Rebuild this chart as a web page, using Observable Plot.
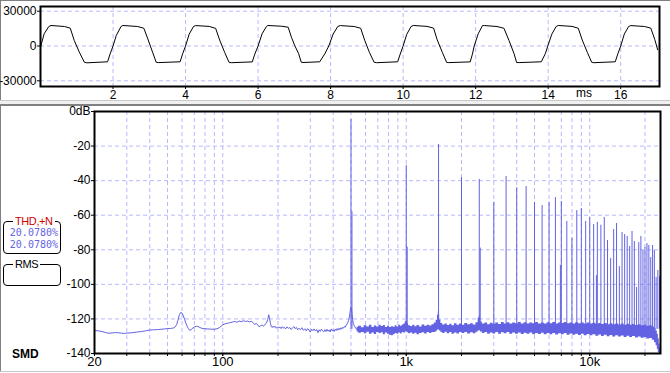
<!DOCTYPE html>
<html><head><meta charset="utf-8">
<script src="https://cdn.jsdelivr.net/npm/d3@7"></script>
<script src="https://cdn.jsdelivr.net/npm/@observablehq/plot@0.6"></script>
<style>
html,body{margin:0;padding:0;background:#fff;}
#wrap{position:relative;width:670px;height:373px;overflow:hidden;background:#fff;font-family:"Liberation Sans Narrow","Liberation Sans",Arial,sans-serif;}
.chrome{position:absolute;}
#topPlot,#botPlot{position:absolute;left:0;}
#topPlot{top:0;}
#botPlot{top:104px;}
.box{position:absolute;border:1px solid #000;border-radius:4px;box-sizing:border-box;}
.legend{position:absolute;top:-7px;left:9px;background:#fff;padding:0 2px;font-size:11px;letter-spacing:-0.4px;line-height:13px;}
.val{position:absolute;right:2px;top:5px;font-family:"DejaVu Sans Mono",monospace;font-size:10px;line-height:12.3px;color:#6464e4;text-align:right;}
#smd{position:absolute;left:12px;top:347px;font-family:"Liberation Sans",Arial,sans-serif;font-weight:bold;font-size:12px;line-height:14px;}
#ms{position:absolute;left:576px;top:86px;font-size:12px;line-height:14px;}
</style></head><body>
<div id="wrap">
  <div class="chrome" style="left:0;top:0;width:670px;height:1px;background:#808080"></div>
  <div class="chrome" style="left:0;top:0;width:1px;height:100px;background:#808080"></div>
  <div class="chrome" style="left:0;top:100px;width:670px;height:1px;background:#c8c8c8"></div>
  <div class="chrome" style="left:0;top:101px;width:670px;height:3px;background:#f0f0f0"></div>
  <div class="chrome" style="left:0;top:104px;width:670px;height:2px;background:#808080"></div>
  <div class="chrome" style="left:0;top:104px;width:1px;height:268px;background:#808080"></div>
  <div class="chrome" style="left:0;top:371px;width:670px;height:1px;background:#c8c8c8"></div>
  <div id="topPlot"></div>
  <div id="botPlot"></div>
  <div id="ms"></div>
  <div class="box" id="thdBox" style="left:3px;top:221px;width:58px;height:33px;"><span class="legend" id="thdTitle" style="color:#d00000"></span><div class="val" id="thdVals"></div></div>
  <div class="box" id="rmsBox" style="left:3px;top:264px;width:58px;height:22px;"><span class="legend" id="rmsTitle"></span></div>
  <div id="smd"></div>
</div>
<script>
// ---------- text data ----------
const thdTitle = "THD,+N";
const thdValues = ["20.0780%", "20.0780%"];
const rmsTitle = "RMS";
const modeLabel = "SMD";
const timeUnit = "ms";

// ---------- top panel: waveform (ms, sample value) ----------
const timeTicks = [2, 4, 6, 8, 10, 12, 14, 16];
const ampTicks = [30000, 0, -30000];
const ampTickLabels = ["30000", "0", "-30000"];
const waveT = [
  0.00, 0.10, 0.23, 0.29, 0.66, 0.82, 0.93, 1.07, 1.21, 1.28, 1.85, 1.92,
  2.00, 2.09, 2.22, 2.27, 2.68, 2.85, 2.96, 3.09, 3.19, 3.26, 3.85, 3.92,
  4.00, 4.10, 4.22, 4.28, 4.65, 4.83, 4.94, 5.08, 5.20, 5.26, 5.84, 5.91,
  6.00, 6.11, 6.23, 6.27, 6.64, 6.83, 6.92, 7.01, 7.12, 7.19, 7.24, 7.70, 7.84,
  7.95, 8.07, 8.20, 8.27, 8.65, 8.83, 8.94, 9.07, 9.20, 9.27, 9.85, 9.92,
  10.00, 10.10, 10.22, 10.28, 10.66, 10.84, 10.94, 11.08, 11.20, 11.26, 11.85, 11.91,
  11.96, 12.07, 12.19, 12.25, 12.59, 12.78, 12.92, 13.06, 13.13, 13.20, 13.81, 13.92,
  13.99, 14.10, 14.22, 14.28, 14.66, 14.83, 14.94, 15.08, 15.20, 15.26, 15.85, 15.92,
  16.00, 16.10, 16.22, 16.28, 16.66, 16.83, 16.94, 17.02
];
const waveV = [
  -1000, 10500, 16800, 17700, 16800, 15400, 4800, -5300, -14000, -14500, -13600, -6800,
  0, 9100, 16800, 17700, 16800, 15300, 6100, -5300, -14000, -14300, -13600, -6700,
  0, 10200, 16900, 17600, 16900, 15200, 5200, -5600, -14100, -14400, -13700, -7000,
  0, 10500, 16800, 17670, 17070, 16200, 7590, 430, -6720, -13960, -14220, -13620, -6720,
  0, 10300, 16900, 17600, 16800, 15300, 5000, -5500, -14000, -14400, -13600, -6900,
  0, 10100, 16800, 17700, 16900, 15400, 5300, -5400, -14100, -14300, -13700, -7100,
  0, 10500, 17670, 17600, 16800, 15300, 4740, -6720, -14220, -14300, -13620, -6720,
  0, 10200, 16800, 17700, 16900, 15300, 5100, -5500, -14000, -14400, -13600, -6800,
  0, 10300, 16900, 17600, 16800, 15400, 5600, -3300
];

// ---------- bottom panel: spectrum (Hz, dB) ----------
const freqGrid = [30, 40, 50, 60, 70, 80, 90, 100, 200, 300, 400, 500, 600, 700, 800, 900,
  1000, 2000, 3000, 4000, 5000, 6000, 7000, 8000, 9000, 10000, 20000];
const freqMinorTicks = [20, 30, 40, 50, 60, 70, 80, 90, 100, 200, 300, 400, 500, 600, 700, 800, 900,
  1000, 2000, 3000, 4000, 5000, 6000, 7000, 8000, 9000, 10000, 20000];
const freqLabelTicks = [20, 100, 1000, 10000];
const freqLabels = ["20", "100", "1k", "10k"];
const dbGrid = [-20, -40, -60, -80, -100, -120];
const dbTicks = [0, -20, -40, -60, -80, -100, -120, -140];
const dbLabels = ["0dB", "-20", "-40", "-60", "-80", "-100", "-120", "-140"];

// harmonic lines
const harmF = [500, 1000, 1500, 2000, 2500, 3000, 3500, 4000, 4500, 5000, 5500, 6000, 6500, 7000,
  7500, 8000, 8500, 9000, 9500, 10000, 10500, 11000, 11500, 12000, 12500, 13000, 13500, 14000,
  14500, 15000, 15500, 16000, 16500, 17000, 17500, 18000, 18500, 19000, 19500, 20000, 20500,
  21000, 21500, 22000, 22500, 23000, 23500];
const harmDb = [-4.6, -31.2, -19.1, -38.2, -39.3, -52.5, -37.6, -44.1, -43.4, -52.6, -54.4, -52.5, -49.8, -52.1,
  -63.6, -73.3, -57.3, -56.1, -63.6, -61.5, -65.4, -64.2, -65.8, -61.3, -74.6, -85.0, -68.3, -64.8,
  -89.7, -70.0, -71.2, -72.3, -78.1, -69.4, -75.2, -101.8, -75.8, -72.3, -80.4, -78.7, -76.4,
  -77.5, -84.5, -77.5, -80.4, -96.0, -92.0];
// neighbouring bins that make some lines look thicker
const sideF = [506, 1012, 2530, 6920, 10870, 24000];
const sideDb = [-58, -78.5, -79, -89, -95, -95.5];
const lineBaseDb = -126;

// noise floor, low-frequency part
const noiseF = [20,21,22,23,24,25,26,27,28,29,30,32,34,36,38,40,42,44,46,48,50,52,54,55,56,57,58,59,60,61,62,63,64,65,66,67,68,70,72,74,76,78,80,83,86,90,93,96,98,100,103,106,110,113,116,120,123,126,130,133,136,140,143,146,149,152,155,158,161,164,167,170,173,176,178,180,182,184,186,188,190,193,196,199,202,205,208,211,214,217,220,224,228,232,236,240,244,248,252,256,260,265,270,275,280,285,290,295,300,305,310,315,320,325,330,335,340,345,350,355,360,365,370,375,380,385,390,395,400,405,410,415,420,425,430,435,440,445,450,455,460,465,470,475,480,485,490,494,497,500,503,506,510,515,520,525,530,535,540];
const noiseDb = [-126.7,-126.9,-127.3,-127.9,-128.3,-128.1,-127.9,-128.0,-128.2,-128.4,-128.2,-128.0,-127.6,-127.3,-126.9,-126.4,-126.3,-126.2,-126.0,-125.8,-125.6,-125.5,-125.2,-124.6,-123.4,-120.8,-117.6,-116.3,-116.6,-118.2,-120.4,-122.5,-124.3,-125.7,-126.6,-126.4,-125.6,-124.7,-124.2,-124.6,-125.2,-125.6,-125.7,-125.8,-125.9,-126.0,-125.7,-125.0,-124.2,-123.4,-122.8,-122.5,-122.1,-121.8,-121.5,-121.9,-121.2,-121.6,-121.0,-121.5,-121.2,-121.7,-121.4,-122.0,-123.2,-122.6,-123.4,-124.6,-123.9,-123.6,-124.2,-123.1,-122.4,-120.2,-117.6,-119.8,-122.6,-124.4,-125.0,-124.2,-124.8,-124.3,-125.4,-124.6,-125.1,-124.7,-125.6,-124.5,-125.3,-124.9,-125.8,-124.6,-125.4,-125.0,-126.1,-125.2,-124.4,-125.6,-124.9,-126.3,-125.4,-126.2,-125.1,-126.6,-125.7,-126.9,-125.6,-126.4,-127.6,-125.9,-126.8,-125.8,-127.0,-126.1,-128.0,-126.3,-127.2,-125.9,-126.8,-127.5,-126.2,-127.3,-126.0,-127.1,-126.4,-127.6,-125.8,-126.9,-126.3,-127.2,-125.9,-126.7,-125.6,-126.5,-125.4,-126.2,-125.1,-125.9,-124.9,-125.3,-124.4,-124.8,-123.6,-123.2,-122.1,-120.8,-118.9,-116.2,-114.0,-113.2,-114.4,-117.0,-120.3,-122.6,-123.8,-124.6,-125.3,-125.8,-126.2];

// noise floor band (upper / lower edge), from 540 Hz up
const bandF = [540,560,580,600,620,640,660,680,700,720,740,760,780,800,820,840,860,880,900,920,940,960,980,995,1005,1020,1040,1070,1100,1130,1160,1200,1240,1280,1320,1360,1400,1440,1470,1490,1500,1510,1530,1560,1600,1650,1700,1750,1800,1860,1920,1980,2050,2120,2200,2280,2360,2440,2490,2510,2560,2640,2730,2820,2920,3020,3130,3240,3360,3480,3600,3730,3870,4010,4160,4310,4470,4630,4800,4980,5160,5350,5550,5750,5960,6180,6400,6640,6880,7130,7390,7660,7940,8230,8530,8840,9160,9500,9850,10200,10600,11000,11400,11800,12200,12700,13100,13600,14100,14600,15100,15700,16200,16800,17400,18100,18700,19400,20100,20800,21600,22300,22800,23200,23500,23800,24050,24300];
const bandHi = [-124.8,-124.2,-125.1,-123.9,-124.6,-123.7,-124.9,-124.1,-124.7,-123.6,-124.4,-123.8,-124.9,-124.2,-125.0,-124.5,-124.8,-123.9,-124.6,-123.7,-124.3,-123.5,-122.9,-121.6,-121.2,-122.8,-123.9,-124.4,-123.6,-124.5,-123.8,-124.6,-123.5,-124.3,-123.7,-124.1,-123.3,-122.4,-120.8,-117.9,-115.8,-117.4,-120.6,-122.7,-123.5,-122.9,-123.8,-123.1,-123.9,-122.8,-123.6,-122.9,-123.7,-122.6,-123.4,-122.8,-123.5,-122.2,-119.6,-118.4,-121.8,-123.0,-122.4,-123.3,-122.5,-123.1,-122.3,-123.2,-122.1,-122.9,-122.2,-123.0,-122.3,-122.8,-122.0,-122.9,-122.2,-123.0,-122.4,-122.8,-122.1,-122.9,-122.3,-123.0,-122.2,-122.8,-122.1,-122.9,-122.3,-122.7,-122.0,-122.8,-122.3,-122.9,-122.2,-122.8,-122.4,-123.0,-122.3,-122.9,-122.5,-123.1,-122.6,-123.2,-122.7,-123.3,-122.8,-123.4,-122.9,-123.5,-123.0,-123.6,-123.1,-123.7,-123.2,-123.8,-123.4,-124.0,-123.6,-124.3,-124.0,-124.8,-125.6,-127.0,-128.8,-131.5,-134.5,-137.0];
const bandLo = [-127.6,-128.3,-127.9,-128.6,-127.7,-128.9,-128.1,-129.0,-127.8,-128.5,-128.0,-129.1,-128.2,-128.8,-129.4,-129.8,-129.2,-128.4,-128.9,-128.1,-128.7,-127.9,-128.3,-127.6,-127.4,-128.0,-128.6,-128.1,-128.9,-128.3,-129.1,-128.4,-128.0,-128.7,-127.9,-128.5,-127.8,-127.9,-127.2,-126.6,-126.1,-126.5,-127.0,-127.8,-128.4,-127.7,-128.6,-127.9,-128.8,-128.1,-128.7,-127.8,-128.5,-127.9,-128.7,-128.0,-128.6,-127.7,-127.0,-126.8,-127.5,-128.4,-127.8,-128.9,-128.1,-128.7,-127.9,-128.8,-128.0,-128.6,-127.9,-128.9,-128.2,-128.8,-128.1,-129.0,-128.3,-128.9,-128.2,-129.1,-128.4,-129.0,-128.3,-129.2,-128.5,-129.1,-128.4,-129.3,-128.6,-129.2,-128.5,-129.4,-128.7,-129.5,-128.8,-129.6,-128.9,-129.7,-129.0,-129.8,-129.2,-130.0,-129.3,-130.1,-129.4,-130.3,-129.6,-130.4,-129.7,-130.5,-129.9,-130.7,-130.0,-130.8,-130.2,-131.0,-130.4,-131.2,-130.7,-131.6,-131.3,-132.4,-133.8,-135.5,-137.5,-139.6,-140.0,-140.0];

// ---------- styles ----------
const blue = "#6262e2";
const gridColor = "#b8b8ff";
const dash = "4,3";
const font = '"Liberation Sans Narrow","Liberation Sans",Arial,sans-serif';

// ---------- build tables ----------
const wave = waveT.map((t, i) => ({t, v: waveV[i]}));
const harm = harmF.map((f, i) => ({f, db: harmDb[i]}));
const side = sideF.map((f, i) => ({f, db: sideDb[i]}));
const noise = noiseF.map((f, i) => ({f, db: noiseDb[i]}));
const band = bandF.map((f, i) => ({f, hi: bandHi[i], lo: bandLo[i]}));
const ampLabelMap = new Map(ampTicks.map((d, i) => [d, ampTickLabels[i]]));
const freqLabelMap = new Map(freqLabelTicks.map((d, i) => [d, freqLabels[i]]));
const dbLabelMap = new Map(dbTicks.map((d, i) => [d, dbLabels[i]]));

const topSvg = Plot.plot({
  width: 670, height: 100,
  marginLeft: 40, marginRight: 11, marginTop: 6, marginBottom: 14,
  x: {domain: [0, 17.07]},
  y: {domain: [-34900, 34050]},
  style: {fontFamily: font, fontSize: "12px", background: "transparent", color: "#000", overflow: "visible"},
  marks: [
    Plot.gridX(timeTicks, {stroke: gridColor, strokeOpacity: 1, strokeDasharray: dash}),
    Plot.gridY(ampTicks, {stroke: gridColor, strokeOpacity: 1, strokeDasharray: dash}),
    Plot.axisX(timeTicks, {tickSize: 3, tickPadding: 1, tickFormat: d => String(d), label: null}),
    Plot.axisY(ampTicks, {tickSize: 3, tickPadding: 1, tickFormat: d => ampLabelMap.get(d), label: null}),
    Plot.line(wave, {x: "t", y: "v", stroke: "#000", strokeWidth: 1}),
    Plot.frame({stroke: "#000", strokeWidth: 2})
  ]
});
document.getElementById("topPlot").appendChild(topSvg);

const botSvg = Plot.plot({
  width: 670, height: 269,
  marginLeft: 94, marginRight: 10, marginTop: 7, marginBottom: 20,
  x: {type: "log", domain: [20, 24300]},
  y: {domain: [-140, 0]},
  style: {fontFamily: font, fontSize: "12px", background: "transparent", color: "#000", overflow: "visible"},
  marks: [
    Plot.gridX(freqGrid, {stroke: gridColor, strokeOpacity: 1, strokeDasharray: dash}),
    Plot.gridY(dbGrid, {stroke: gridColor, strokeOpacity: 1, strokeDasharray: dash}),
    Plot.axisX(freqMinorTicks, {tickSize: 3, tickFormat: () => "", label: null}),
    Plot.axisX(freqLabelTicks, {tickSize: 3, tickPadding: 0, tickFormat: d => freqLabelMap.get(d), fontSize: 13, label: null}),
    Plot.axisY(dbTicks, {tickSize: 3, tickPadding: 1, tickFormat: d => dbLabelMap.get(d), label: null}),
    Plot.areaY(band, {x: "f", y1: "lo", y2: "hi", fill: blue, curve: "step"}),
    Plot.line(noise, {x: "f", y: "db", stroke: blue, strokeWidth: 1}),
    Plot.ruleX(harm, {x: "f", y1: lineBaseDb, y2: "db", stroke: blue, strokeWidth: 1}),
    Plot.ruleX(side, {x: "f", y1: lineBaseDb, y2: "db", stroke: blue, strokeWidth: 1}),
    Plot.frame({stroke: "#000", strokeWidth: 2})
  ]
});
document.getElementById("botPlot").appendChild(botSvg);

document.getElementById("thdTitle").textContent = thdTitle;
document.getElementById("thdVals").innerHTML = thdValues.join("<br>");
document.getElementById("rmsTitle").textContent = rmsTitle;
document.getElementById("smd").textContent = modeLabel;
document.getElementById("ms").textContent = timeUnit;
</script>
</body></html>
